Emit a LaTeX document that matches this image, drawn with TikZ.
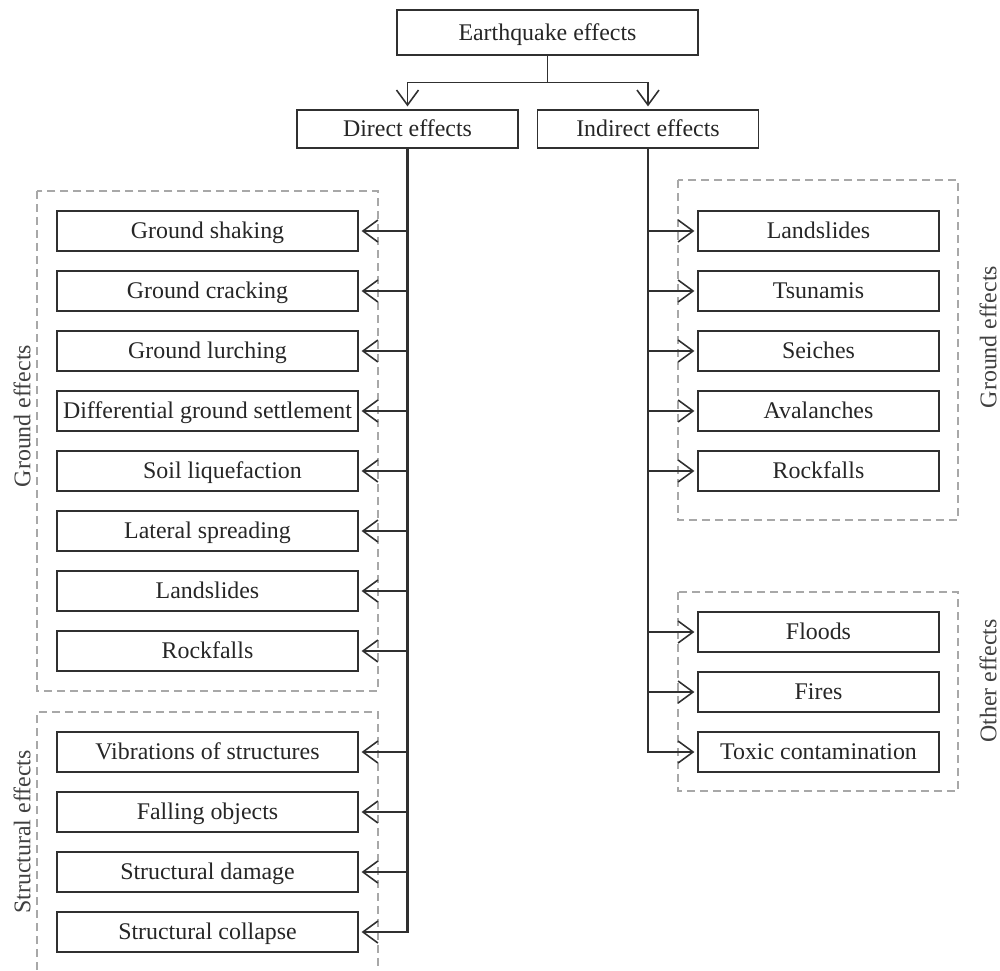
\documentclass[tikz,border=0pt]{standalone}
\usepackage{fontspec}
\setmainfont{Liberation Serif}
\usetikzlibrary{arrows.meta}
\definecolor{boxline}{HTML}{303030}
\definecolor{dashgray}{HTML}{A8A8A8}
\definecolor{labelgray}{HTML}{404040}

\begin{document}
\begin{tikzpicture}[x=0.02cm, y=-0.02cm, >={Straight Barb[length=0.3cm, width=0.44cm]},
  box/.style={draw=boxline, line width=0.7pt, inner sep=1pt, text=black!85,
    text height=9pt, text depth=0pt, font=\fontsize{13.6}{16}\selectfont},
  wide/.style={box, minimum width=6.02cm, minimum height=0.8cm},
  narrow/.style={box, minimum width=4.82cm, minimum height=0.8cm},
  trunk/.style={draw=boxline, line width=1.4pt, line cap=rect},
  branch/.style={->, color=boxline, line width=0.9pt, shorten >=0.06cm},
  group/.style={draw=dashgray, line width=0.6pt, dash pattern=on 0.16cm off 0.1cm},
  side/.style={rotate=90, text=labelgray, inner sep=0pt, font=\fontsize{13.6}{16}\selectfont}]
  \useasboundingbox (0,0) rectangle (1000,970);

  \node[box, minimum width=6.02cm, minimum height=0.9cm]  (root)     at (547.5,32.5) {Earthquake effects};
  \node[box, minimum width=4.42cm, minimum height=0.76cm] (direct)   at (407.5,129)  {Direct effects};
  \node[box, minimum width=4.42cm, minimum height=0.76cm] (indirect) at (648,129)    {Indirect effects};

  % direct effects
  \node[wide] (shaking)      at (207.5,231) {Ground shaking};
  \node[wide] (cracking)     at (207.5,291) {Ground cracking};
  \node[wide] (lurching)     at (207.5,351) {Ground lurching};
  \node[wide] (settlement)   at (207.5,411) {Differential ground settlement};
  \node[wide] (liquefaction) at (207.5,471) {\hspace{0.6cm}Soil liquefaction};
  \node[wide] (spreading)    at (207.5,531) {Lateral spreading};
  \node[wide] (slidesD)      at (207.5,591) {Landslides};
  \node[wide] (rockD)        at (207.5,651) {Rockfalls};
  \node[wide] (vibrations)   at (207.5,752) {Vibrations of structures};
  \node[wide] (falling)      at (207.5,812) {Falling objects};
  \node[wide] (damage)       at (207.5,872) {Structural damage};
  \node[wide] (collapse)     at (207.5,932) {Structural collapse};

  % indirect effects
  \node[narrow] (slidesI)    at (818.5,231) {Landslides};
  \node[narrow] (tsunamis)   at (818.5,291) {Tsunamis};
  \node[narrow] (seiches)    at (818.5,351) {Seiches};
  \node[narrow] (avalanches) at (818.5,411) {Avalanches};
  \node[narrow] (rockI)      at (818.5,471) {Rockfalls};
  \node[narrow] (floods)     at (818.5,632) {Floods};
  \node[narrow] (fires)      at (818.5,692) {Fires};
  \node[narrow] (toxic)      at (818.5,752) {Toxic contamination};

  % dashed groups
  \draw[group] (37,191) rectangle (378,691);
  \draw[group] (37,970) |- (378,712) -- (378,970);
  \draw[group] (678,180) rectangle (958,520);
  \draw[group] (678,592) rectangle (958,791);

  \node[side] (groundL)     at (22,416)  {Ground effects};
  \node[side] (structural)  at (22,832)  {Structural effects};
  \node[side] (groundR)     at (988,337) {Ground effects};
  \node[side] (other)       at (988,681) {Other effects};

  % root -> direct, indirect
  \path (root.south) ++(0,27) coordinate (split);
  \draw[draw=boxline, line width=0.9pt] (root) -- (split);
  \draw[branch] (split) -| (direct);
  \draw[branch] (split) -| (indirect);

  % trunks
  \draw[trunk] (direct.south) -- (direct.south |- collapse);
  \draw[trunk] (indirect.south) -- (indirect.south |- toxic);

  \path[branch]
    % direct -> ground effects
    (direct.south |- shaking)      edge (shaking)
    (direct.south |- cracking)     edge (cracking)
    (direct.south |- lurching)     edge (lurching)
    (direct.south |- settlement)   edge (settlement)
    (direct.south |- liquefaction) edge (liquefaction)
    (direct.south |- spreading)    edge (spreading)
    (direct.south |- slidesD)      edge (slidesD)
    (direct.south |- rockD)        edge (rockD)
    % direct -> structural effects
    (direct.south |- vibrations)   edge (vibrations)
    (direct.south |- falling)      edge (falling)
    (direct.south |- damage)       edge (damage)
    (direct.south |- collapse)     edge (collapse)
    % indirect -> ground effects
    (indirect.south |- slidesI)    edge (slidesI)
    (indirect.south |- tsunamis)   edge (tsunamis)
    (indirect.south |- seiches)    edge (seiches)
    (indirect.south |- avalanches) edge (avalanches)
    (indirect.south |- rockI)      edge (rockI)
    % indirect -> other effects
    (indirect.south |- floods)     edge (floods)
    (indirect.south |- fires)      edge (fires)
    (indirect.south |- toxic)      edge (toxic);

\end{tikzpicture}
\end{document}
